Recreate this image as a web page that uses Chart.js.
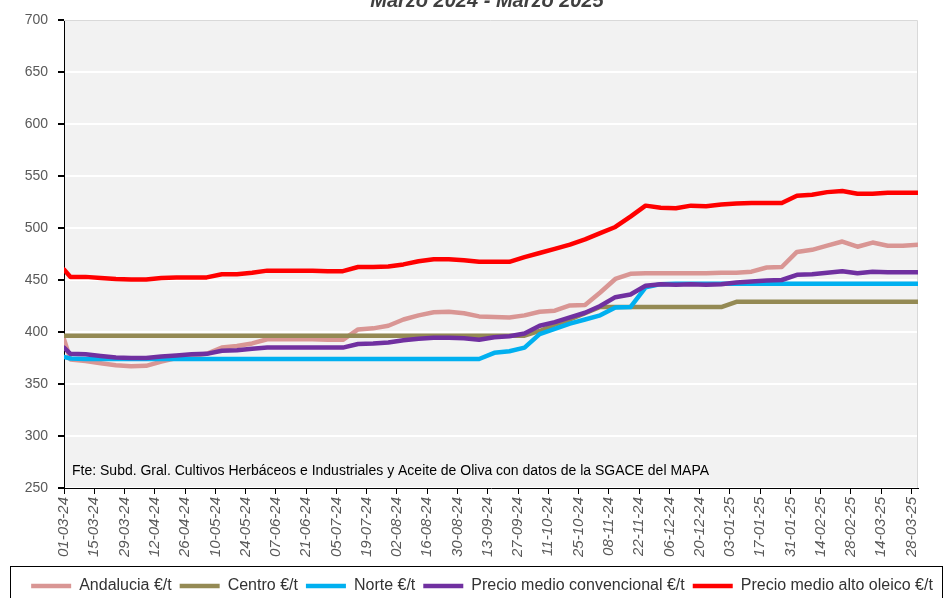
<!DOCTYPE html>
<html>
<head>
<meta charset="utf-8">
<script src="https://cdn.jsdelivr.net/npm/chart.js@4.4.1/dist/chart.umd.min.js"></script>
<style>
  html, body { margin: 0; padding: 0; background: #fff; }
  #wrap { width: 948px; height: 598px; }
</style>
</head>
<body>
<div id="wrap"><canvas id="preciosChart" width="948" height="598"></canvas></div>
<script>
const titulo = 'Marzo 2024 - Marzo 2025';
const fuente = 'Fte: Subd. Gral. Cultivos Herbáceos e Industriales y Aceite de Oliva con datos de la SGACE del MAPA';

// fechas de cada dato (dd-mm-yy)
const fechas = [
  '01-03-24', '04-03-24', '11-03-24', '18-03-24', '25-03-24', '01-04-24', '08-04-24', '15-04-24',
  '22-04-24', '29-04-24', '06-05-24', '13-05-24', '20-05-24', '27-05-24', '03-06-24', '10-06-24',
  '17-06-24', '24-06-24', '01-07-24', '08-07-24', '15-07-24', '22-07-24', '29-07-24', '05-08-24',
  '12-08-24', '19-08-24', '26-08-24', '02-09-24', '09-09-24', '16-09-24', '23-09-24', '30-09-24',
  '07-10-24', '14-10-24', '21-10-24', '28-10-24', '04-11-24', '11-11-24', '18-11-24', '25-11-24',
  '02-12-24', '09-12-24', '16-12-24', '23-12-24', '30-12-24', '06-01-25', '13-01-25', '20-01-25',
  '27-01-25', '03-02-25', '10-02-25', '17-02-25', '24-02-25', '03-03-25', '10-03-25', '17-03-25',
  '24-03-25', '31-03-25'
];

// etiquetas del eje X (cada 14 dias)
const etiquetasX = [
  '01-03-24', '15-03-24', '29-03-24', '12-04-24', '26-04-24', '10-05-24', '24-05-24', '07-06-24',
  '21-06-24', '05-07-24', '19-07-24', '02-08-24', '16-08-24', '30-08-24', '13-09-24', '27-09-24',
  '11-10-24', '25-10-24', '08-11-24', '22-11-24', '06-12-24', '20-12-24', '03-01-25', '17-01-25',
  '31-01-25', '14-02-25', '28-02-25', '14-03-25', '28-03-25'
];

const andalucia = [
  393, 373.5, 372, 370, 368, 367, 367.5, 371.5, 375, 377, 379, 385, 386.5, 389, 393, 393,
  393, 393, 392.5, 392.5, 402.5, 403.5, 406, 412, 416, 419, 419.5, 418, 415, 414.5, 414, 416,
  419.5, 420.5, 425.5, 426, 438, 451, 456, 456.5, 456.5, 456.5, 456.5, 456.5, 457, 457, 458, 462,
  462.5, 477, 479, 483, 487, 482, 486, 483, 483, 484
];
const centro = [
  396.5, 396.5, 396.5, 396.5, 396.5, 396.5, 396.5, 396.5, 396.5, 396.5, 396.5, 396.5, 396.5, 396.5, 396.5, 396.5,
  396.5, 396.5, 396.5, 396.5, 396.5, 396.5, 396.5, 396.5, 396.5, 396.5, 396.5, 396.5, 396.5, 396.5, 396.5, 396.5,
  401, 407, 412, 418, 424, 424, 424, 424, 424, 424, 424, 424, 424, 429, 429, 429,
  429, 429, 429, 429, 429, 429, 429, 429, 429, 429
];
const norte = [
  376, 374.5, 374, 374, 374, 374, 374, 374, 374, 374, 374, 374, 374, 374, 374, 374,
  374, 374, 374, 374, 374, 374, 374, 374, 374, 374, 374, 374, 374, 380, 381.5, 385,
  398, 403, 408, 412, 416, 423.5, 424, 443, 446, 446.5, 446.5, 446.5, 446.5, 446.5, 446.5, 446.5,
  446.5, 446.5, 446.5, 446.5, 446.5, 446.5, 446.5, 446.5, 446.5, 446.5
];
const convencional = [
  385, 379, 378.5, 377, 375.5, 375, 375, 376.5, 377.5, 378.5, 379, 382, 382.5, 384, 385, 385,
  385, 385, 385, 385, 388.5, 389, 390, 392, 393.5, 394.5, 394.5, 394, 392.5, 395, 396, 398.5,
  406, 409.5, 414, 418.5, 425, 433.5, 436, 444.5, 446, 445.5, 446, 445.5, 446, 447.5, 448.5, 449.5,
  450, 455, 455.5, 457, 458.5, 456.5, 458, 457.5, 457.5, 457.5
];
const altoOleico = [
  460, 453, 453, 452, 451, 450.5, 450.5, 452, 452.5, 452.5, 452.5, 455.5, 455.5, 457, 459, 459,
  459, 459, 458.5, 458.5, 462.5, 462.5, 463, 465, 468, 470, 470, 469, 467.5, 467.5, 467.5, 472,
  476, 480, 484, 489, 495, 501, 511, 521.5, 519.5, 519, 521.5, 521, 522.5, 523.5, 524, 524,
  524, 531, 532, 534.5, 535.5, 533, 533, 534, 534, 534
];

const nombres = ['Andalucia €/t', 'Centro €/t', 'Norte €/t', 'Precio medio convencional €/t', 'Precio medio alto oleico €/t'];
const colores = ['#D99694', '#948A54', '#00B0F0', '#7030A0', '#FF0000'];
const series = [andalucia, centro, norte, convencional, altoOleico];

function diasDesdeInicio(f) {
  const [d, m, a] = f.split('-').map(Number);
  return (Date.UTC(2000 + a, m - 1, d) - Date.UTC(2024, 2, 1)) / 86400000;
}
const xDias = fechas.map(diasDesdeInicio);

const datasets = series.map((vals, i) => ({
  label: nombres[i],
  data: vals.map((v, j) => ({ x: xDias[j], y: v })),
  borderColor: colores[i],
  backgroundColor: colores[i],
  borderWidth: 4.5,
  pointRadius: 0,
  pointStyle: 'line',
  tension: 0,
  borderJoinStyle: 'round',
  borderCapStyle: 'round',
  order: 5 - i,   // las ultimas series quedan encima, como en Excel
  yAxisID: 'y'
}));

const fondoPlugin = {
  id: 'fondo',
  beforeDraw(chart) {
    const { ctx, chartArea: a } = chart;
    ctx.save();
    ctx.fillStyle = '#F2F2F2';
    ctx.fillRect(a.left, a.top, a.right - a.left, a.bottom - a.top);
    ctx.restore();
  },
  beforeDatasetsDraw(chart) {
    const { ctx, chartArea: a } = chart;
    ctx.save();
    ctx.strokeStyle = '#D9D9D9';
    ctx.lineWidth = 1;
    ctx.beginPath();
    ctx.moveTo(a.left, a.top + 0.5);
    ctx.lineTo(a.right - 0.5, a.top + 0.5);
    ctx.lineTo(a.right - 0.5, a.bottom);
    ctx.stroke();
    ctx.restore();
  },
  afterDraw(chart) {
    const { ctx, chartArea: a, legend } = chart;
    ctx.save();
    // titulo (cortado arriba)
    ctx.font = 'italic bold 20px "Liberation Sans", Arial, sans-serif';
    ctx.fillStyle = '#404040';
    ctx.textAlign = 'center';
    ctx.textBaseline = 'alphabetic';
    ctx.fillText(titulo, 487, 7);
    // fuente
    ctx.font = '14px "Liberation Sans", Arial, sans-serif';
    ctx.fillStyle = '#000';
    ctx.textAlign = 'left';
    ctx.textBaseline = 'middle';
    ctx.fillText(fuente, a.left + 8, a.bottom - 17);
    // marco de la leyenda
    ctx.strokeStyle = '#000';
    ctx.lineWidth = 1;
    ctx.strokeRect(10.5, Math.round(legend.top) - 4 + 0.5, 932, 40);
    ctx.restore();
  }
};

Chart.defaults.font.family = '"Liberation Sans", Arial, sans-serif';

new Chart(document.getElementById('preciosChart'), {
  type: 'line',
  data: { datasets },
  plugins: [fondoPlugin],
  options: {
    responsive: false,
    animation: false,
    devicePixelRatio: 1,
    layout: { padding: { left: 16, right: 0, top: 20, bottom: -6 } },
    plugins: {
      tooltip: { enabled: false },
      legend: {
        position: 'bottom',
        reverse: true,
        labels: {
          usePointStyle: true,
          pointStyle: 'line',
          pointStyleWidth: 40,
          padding: 8,
          color: '#333',
          font: { size: 16 }
        }
      }
    },
    scales: {
      x: {
        type: 'linear',
        min: 0,
        max: 395,
        grid: { drawOnChartArea: false, drawTicks: true, tickLength: 6, tickColor: '#000' },
        border: { display: true, color: '#000', width: 1 },
        ticks: {
          stepSize: 14,
          includeBounds: false,
          maxTicksLimit: 40,
          autoSkip: false,
          minRotation: 90,
          maxRotation: 90,
          padding: 3,
          color: '#595959',
          font: { size: 15, style: 'italic' },
          callback: (v) => etiquetasX[Math.round(v / 14)] ?? ''
        },
        afterFit(s) { s.height = 82; }
      },
      y: {
        min: 250,
        max: 700,
        grid: { color: '#FFFFFF', lineWidth: 2, tickColor: '#000', tickLength: 6 },
        border: { display: true, color: '#000', width: 1 },
        ticks: { stepSize: 50, padding: 10, color: '#595959', font: { size: 14 } },
        afterFit(s) { s.width = 48; }
      },
      yDer: {
        position: 'right',
        display: true,
        grid: { display: false },
        border: { display: false },
        ticks: { display: false },
        afterFit(s) { s.width = 30; }
      }
    }
  }
});
</script>
</body>
</html>
